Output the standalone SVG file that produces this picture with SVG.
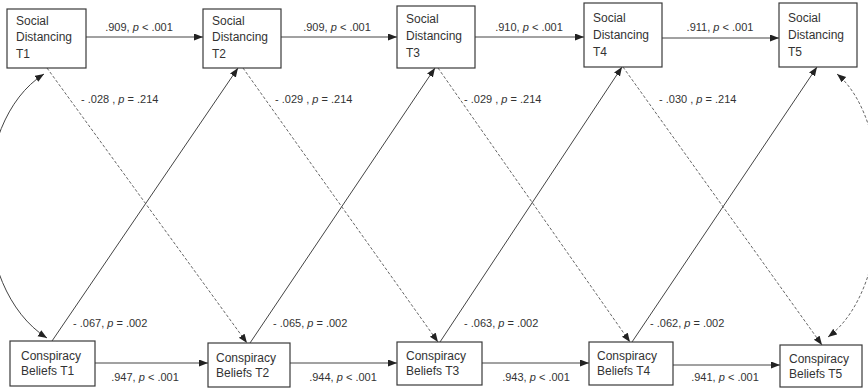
<svg xmlns="http://www.w3.org/2000/svg" width="868" height="389" viewBox="0 0 868 389">
<style>
.box{fill:#fff;stroke:#3a3a3a;stroke-width:1.2}
.nt{font-family:"Liberation Sans",Arial,sans-serif;font-size:12px;fill:#333}
.lb{font-family:"Liberation Sans",Arial,sans-serif;font-size:11px;fill:#333}
.ln{fill:none;stroke:#444;stroke-width:1}
.ds{fill:none;stroke:#555;stroke-width:0.9;stroke-dasharray:3,2}
</style>
<defs>
<marker id="ah" markerUnits="userSpaceOnUse" markerWidth="10" markerHeight="8" refX="9" refY="3.5" orient="auto-start-reverse">
<path d="M0,0 L9,3.5 L0,7 z" fill="#222"/>
</marker>
</defs>
<g id="connectors">
<line class="ln" x1="86" y1="37" x2="203" y2="37" marker-end="url(#ah)"/>
<line class="ln" x1="281" y1="37" x2="397" y2="37" marker-end="url(#ah)"/>
<line class="ln" x1="475" y1="37" x2="584" y2="37" marker-end="url(#ah)"/>
<line class="ln" x1="662" y1="38" x2="779" y2="38" marker-end="url(#ah)"/>
<line class="ln" x1="95" y1="363" x2="208" y2="363" marker-end="url(#ah)"/>
<line class="ln" x1="290" y1="363" x2="397" y2="363" marker-end="url(#ah)"/>
<line class="ln" x1="482" y1="363" x2="589" y2="363" marker-end="url(#ah)"/>
<line class="ln" x1="673" y1="365" x2="780" y2="365" marker-end="url(#ah)"/>
<line class="ln" x1="52" y1="341" x2="238" y2="68" marker-end="url(#ah)"/>
<line class="ln" x1="250" y1="343" x2="435" y2="68" marker-end="url(#ah)"/>
<line class="ln" x1="440" y1="342" x2="622" y2="67" marker-end="url(#ah)"/>
<line class="ln" x1="632" y1="342" x2="817" y2="67" marker-end="url(#ah)"/>
<line class="ds" x1="47" y1="68" x2="247" y2="343" marker-end="url(#ah)"/>
<line class="ds" x1="243" y1="68" x2="438" y2="342" marker-end="url(#ah)"/>
<line class="ds" x1="438" y1="68" x2="630" y2="342" marker-end="url(#ah)"/>
<line class="ds" x1="623" y1="67" x2="822" y2="345" marker-end="url(#ah)"/>
<path class="ln" d="M44,74 C-32,122 -32,288 47,338" marker-start="url(#ah)" marker-end="url(#ah)"/>
<path class="ds" d="M837,74 C895,122 895,288 828,337" marker-start="url(#ah)" marker-end="url(#ah)"/>
</g>
<g id="labels">
<text class="lb" x="139" y="31" text-anchor="middle">.909, <tspan font-style="italic">p</tspan> &lt; .001</text>
<text class="lb" x="337" y="31" text-anchor="middle">.909, <tspan font-style="italic">p</tspan> &lt; .001</text>
<text class="lb" x="529" y="31" text-anchor="middle">.910, <tspan font-style="italic">p</tspan> &lt; .001</text>
<text class="lb" x="720" y="31" text-anchor="middle">.911, <tspan font-style="italic">p</tspan> &lt; .001</text>
<text class="lb" x="81" y="103">- .028 , <tspan font-style="italic">p</tspan> = .214</text>
<text class="lb" x="275" y="103">- .029 , <tspan font-style="italic">p</tspan> = .214</text>
<text class="lb" x="464" y="103">- .029 , <tspan font-style="italic">p</tspan> = .214</text>
<text class="lb" x="659" y="103">- .030 , <tspan font-style="italic">p</tspan> = .214</text>
<text class="lb" x="73" y="327">- .067, <tspan font-style="italic">p</tspan> = .002</text>
<text class="lb" x="273" y="327">- .065, <tspan font-style="italic">p</tspan> = .002</text>
<text class="lb" x="464" y="327">- .063, <tspan font-style="italic">p</tspan> = .002</text>
<text class="lb" x="650" y="327">- .062, <tspan font-style="italic">p</tspan> = .002</text>
<text class="lb" x="145" y="381" text-anchor="middle">.947, <tspan font-style="italic">p</tspan> &lt; .001</text>
<text class="lb" x="343" y="381" text-anchor="middle">.944, <tspan font-style="italic">p</tspan> &lt; .001</text>
<text class="lb" x="536" y="381" text-anchor="middle">.943, <tspan font-style="italic">p</tspan> &lt; .001</text>
<text class="lb" x="725" y="381" text-anchor="middle">.941, <tspan font-style="italic">p</tspan> &lt; .001</text>
</g>
<g id="sd1"><rect class="box" x="7" y="9" width="79" height="59"/><text class="nt" x="16" y="25">Social</text><text class="nt" x="16" y="41">Distancing</text><text class="nt" x="16" y="58">T1</text></g>
<g id="sd2"><rect class="box" x="203" y="9" width="78" height="59"/><text class="nt" x="212" y="25">Social</text><text class="nt" x="212" y="41">Distancing</text><text class="nt" x="212" y="58">T2</text></g>
<g id="sd3"><rect class="box" x="397" y="6" width="78" height="62"/><text class="nt" x="406" y="23">Social</text><text class="nt" x="406" y="40">Distancing</text><text class="nt" x="406" y="57">T3</text></g>
<g id="sd4"><rect class="box" x="584" y="3" width="78" height="64"/><text class="nt" x="593" y="22">Social</text><text class="nt" x="593" y="39">Distancing</text><text class="nt" x="593" y="56">T4</text></g>
<g id="sd5"><rect class="box" x="779" y="3" width="78" height="64"/><text class="nt" x="788" y="22">Social</text><text class="nt" x="788" y="39">Distancing</text><text class="nt" x="788" y="56">T5</text></g>
<g id="cb1"><rect class="box" x="10" y="341" width="85" height="45"/><text class="nt" x="21" y="360">Conspiracy</text><text class="nt" x="21" y="375">Beliefs T1</text></g>
<g id="cb2"><rect class="box" x="208" y="343" width="82" height="44"/><text class="nt" x="216" y="362">Conspiracy</text><text class="nt" x="216" y="377">Beliefs T2</text></g>
<g id="cb3"><rect class="box" x="397" y="342" width="85" height="43"/><text class="nt" x="406" y="360">Conspiracy</text><text class="nt" x="406" y="375">Beliefs T3</text></g>
<g id="cb4"><rect class="box" x="589" y="342" width="84" height="43"/><text class="nt" x="597" y="360">Conspiracy</text><text class="nt" x="597" y="375">Beliefs T4</text></g>
<g id="cb5"><rect class="box" x="780" y="345" width="82" height="42"/><text class="nt" x="789" y="363">Conspiracy</text><text class="nt" x="789" y="378">Beliefs T5</text></g>
</svg>
